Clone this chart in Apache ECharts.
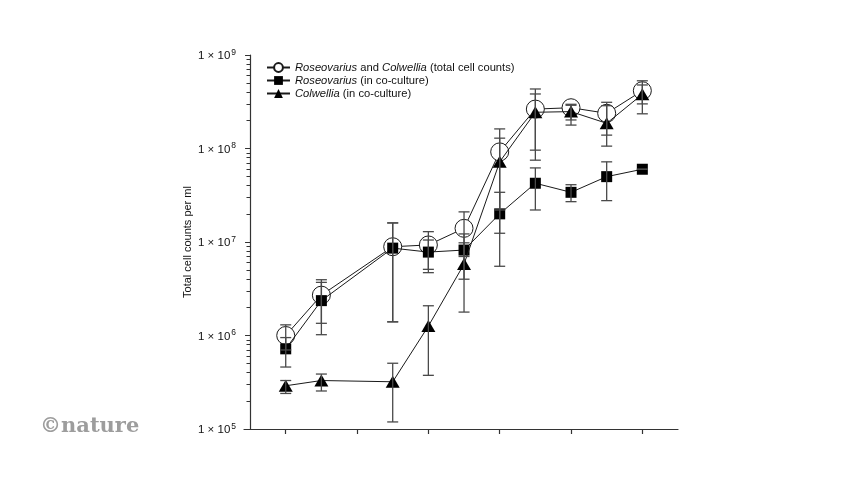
<!DOCTYPE html>
<html>
<head>
<meta charset="utf-8">
<script src="https://cdn.jsdelivr.net/npm/echarts@6/dist/echarts.min.js"></script>
<style>
html,body{margin:0;padding:0;background:#fff;}
#c{width:860px;height:484px;}
</style>
</head>
<body>
<div id="c"></div>
<script>
// ---- data ----
const timepoints = [1, 2, 4, 5, 6, 7, 8, 9, 10, 11];
const xTickValues = [1, 3, 5, 7, 9, 11];

const totalCounts = [1.0e6, 2.7e6, 8.9e6, 9.3e6, 1.4e7, 9.2e7, 2.64e8, 2.73e8, 2.38e8, 4.15e8];
const totalLow    = [7.0e5, 1.35e6, 1.4e6, 5.1e6, 7.0e6, 2.2e7, 9.6e7, 2.02e8, 1.39e8, 3.0e8];
const totalHigh   = [1.3e6, 3.7e6, 1.6e7, 1.29e7, 2.1e7, 1.62e8, 4.33e8, 2.97e8, 3.12e8, 5.3e8];

const roseo     = [7.2e5, 2.36e6, 8.6e6, 7.8e6, 8.2e6, 2.0e7, 4.25e7, 3.4e7, 5.0e7, 6.0e7];
const roseoLow  = [4.6e5, 1.02e6, 1.4e6, 4.7e6, 4.0e6, 5.5e6, 2.2e7, 2.7e7, 2.77e7, 6.0e7];
const roseoHigh = [9.5e5, 3.95e6, 1.6e7, 1.05e7, 1.22e7, 3.4e7, 6.2e7, 4.1e7, 7.2e7, 6.0e7];

const colw     = [2.9e5, 3.3e5, 3.2e5, 1.26e6, 5.8e6, 7.2e7, 2.44e8, 2.48e8, 1.86e8, 3.8e8];
const colwLow  = [2.4e5, 2.55e5, 1.19e5, 3.75e5, 1.78e6, 1.24e7, 7.5e7, 1.78e8, 1.06e8, 2.35e8];
const colwHigh = [3.3e5, 3.87e5, 5.05e5, 2.08e6, 9.8e6, 1.29e8, 3.83e8, 2.9e8, 2.87e8, 4.78e8];

const seriesNames = [
  '{i|Roseovarius} and {i|Colwellia} (total cell counts)',
  '{i|Roseovarius} (in co-culture)',
  '{i|Colwellia} (in co-culture)'
];
const yAxisTitle = 'Total cell counts per ml';
const logoText = '©nature';

// ---- build ----
const FONT = "'Liberation Sans', Arial, Helvetica, sans-serif";
const LINE = '#1a1a1a';
const ERR = '#4a4a4a';

function pairs(vals) { return timepoints.map((t, i) => [t, vals[i]]); }
function errData(low, high) { return timepoints.map((t, i) => [t, low[i], high[i]]); }

// minor log ticks (2..9 in each decade), in log10 space for an overlay axis
const minorTicks = [];
for (let e = 5; e < 9; e++) for (let k = 2; k <= 9; k++) minorTicks.push(Math.log10(k * Math.pow(10, e)));

function errRender(params, api) {
  const x = api.value(0);
  const lo = api.coord([x, api.value(1)]);
  const hi = api.coord([x, api.value(2)]);
  const w = 5.5;
  const style = { stroke: ERR, lineWidth: 1.3, fill: null };
  return {
    type: 'group',
    children: [
      { type: 'line', shape: { x1: lo[0], y1: lo[1], x2: hi[0], y2: hi[1] }, style },
      { type: 'line', shape: { x1: lo[0] - w, y1: lo[1], x2: lo[0] + w, y2: lo[1] }, style },
      { type: 'line', shape: { x1: hi[0] - w, y1: hi[1], x2: hi[0] + w, y2: hi[1] }, style }
    ]
  };
}

const chart = echarts.init(document.getElementById('c'), null, { renderer: 'canvas' });

const option = {
  backgroundColor: '#fff',
  animation: false,
  textStyle: { fontFamily: FONT },
  grid: { left: 244, right: 182, top: 55, bottom: 55 },
  legend: {
    orient: 'vertical',
    left: 266,
    top: 62,
    padding: 0,
    itemWidth: 23,
    itemHeight: 11,
    itemGap: 2,
    data: [seriesNames[0], seriesNames[1], seriesNames[2]],
    textStyle: {
      fontFamily: FONT, fontSize: 11.2, color: '#111',
      rich: { i: { fontStyle: 'italic', fontFamily: FONT, fontSize: 11.2, color: '#111' } }
    },
    formatter: n => n
  },
  xAxis: {
    type: 'value',
    min: -0.17,
    max: 12,
    axisLine: { show: true, lineStyle: { color: '#333', width: 1.2 } },
    axisTick: { show: true, length: 5, lineStyle: { color: '#333', width: 1.2 }, customValues: xTickValues },
    axisLabel: { show: false },
    splitLine: { show: false }
  },
  yAxis: [
    {
      type: 'log',
      logBase: 10,
      min: 1e5,
      max: 1e9,
      axisLine: { show: true, onZero: true, lineStyle: { color: '#333', width: 1.2 } },
      axisTick: { show: true, length: 5, lineStyle: { color: '#333', width: 1 } },
      splitLine: { show: false },
      name: yAxisTitle,
      nameLocation: 'middle',
      nameGap: 51,
      nameMoveOverlap: false,
      nameRotate: 90,
      nameTextStyle: { fontFamily: FONT, fontSize: 11, color: '#111' },
      axisLabel: {
        margin: 8,
        color: '#111',
        fontFamily: FONT,
        fontSize: 11.5,
        formatter: v => '{b|1 × 10}{sup|' + Math.round(Math.log10(v)) + '}',
        rich: {
          b: { fontSize: 11.5, fontFamily: FONT, color: '#111', lineHeight: 14, verticalAlign: 'bottom' },
          sup: { fontSize: 8.5, fontFamily: FONT, color: '#111', verticalAlign: 'top', lineHeight: 14, padding: [0, 0, 0, 1] }
        }
      }
    },
    {
      type: 'value',
      min: 5,
      max: 9,
      position: 'left',
      offset: -6,
      axisLine: { show: false, onZero: false },
      axisTick: { show: true, length: 3.5, lineStyle: { color: '#333', width: 1 }, customValues: minorTicks },
      axisLabel: { show: false },
      splitLine: { show: false }
    }
  ],
  graphic: [
    {
      type: 'text',
      left: 40,
      top: 416,
      style: { text: logoText, font: "bold 21px 'DejaVu Serif', serif", fill: '#9d9d9d' }
    }
  ],
  series: [
    {
      name: seriesNames[0],
      type: 'line',
      data: pairs(totalCounts),
      symbol: 'circle',
      symbolSize: 18,
      lineStyle: { color: LINE, width: 1 },
      itemStyle: { color: '#fff', borderColor: LINE, borderWidth: 1 },
      z: 2
    },
    {
      name: seriesNames[1],
      type: 'line',
      data: pairs(roseo),
      symbol: 'rect',
      symbolSize: 11,
      lineStyle: { color: LINE, width: 1 },
      itemStyle: { color: '#000', borderColor: '#000', borderWidth: 0 },
      z: 3
    },
    {
      name: seriesNames[2],
      type: 'line',
      data: pairs(colw),
      symbol: 'triangle',
      symbolSize: [14, 12],
      lineStyle: { color: LINE, width: 1 },
      itemStyle: { color: '#000', borderColor: '#000', borderWidth: 0 },
      z: 4
    },
    { type: 'custom', renderItem: errRender, data: errData(totalLow, totalHigh), encode: { x: 0, y: [1, 2] }, z: 5, silent: true },
    { type: 'custom', renderItem: errRender, data: errData(roseoLow, roseoHigh), encode: { x: 0, y: [1, 2] }, z: 5, silent: true },
    { type: 'custom', renderItem: errRender, data: errData(colwLow, colwHigh), encode: { x: 0, y: [1, 2] }, z: 5, silent: true }
  ]
};
chart.setOption(option);
</script>
</body>
</html>
